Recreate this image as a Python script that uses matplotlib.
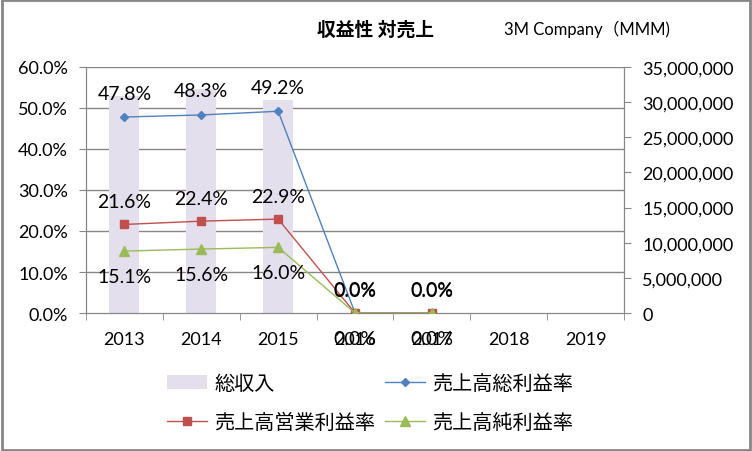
import matplotlib
matplotlib.use("Agg")
import matplotlib.pyplot as plt
import numpy as np
from matplotlib.patches import Rectangle, Patch
from matplotlib.lines import Line2D
from matplotlib.ticker import FuncFormatter

plt.rcParams['font.family'] = ['Lato', 'Noto Sans CJK JP', 'DejaVu Sans']

years = ["2013", "2014", "2015", "2016", "2017", "2018", "2019"]
revenue = [30871000, 31821000, 30274000, 0, 0, np.nan, np.nan]
gross_margin = [0.478, 0.483, 0.492, 0.0, 0.0]
operating_margin = [0.216, 0.224, 0.229, 0.0, 0.0]
net_margin = [0.151, 0.156, 0.160, 0.0, 0.0]

title = "収益性 対売上"
company = "3M Company（MMM)"
legend_labels = ["総収入", "売上高総利益率", "売上高営業利益率", "売上高純利益率"]

c_bar = "#E4DFEC"
c_gross = "#4F81BD"
c_op = "#C0504D"
c_net = "#9BBB59"
c_axis = "#868686"

rev_max = 35000000
pct_max = 0.6
pct_ticks = np.arange(0, 0.61, 0.1)

fig = plt.figure(figsize=(7.52, 4.52), dpi=100)
fig.patches.append(Rectangle((0.002, 0.003), 0.995, 0.994, transform=fig.transFigure,
                             fill=False, edgecolor=c_axis, linewidth=2))

ax_bar = fig.add_axes([0.1144, 0.3053, 0.7154, 0.5443])
ax = ax_bar.twinx()

x = np.arange(len(years))
# gridlines follow the percent axis but sit behind the bars
for t in pct_ticks[1:]:
    ax_bar.axhline(t / pct_max * rev_max, color=c_axis, linewidth=1, zorder=0.5)
ax_bar.bar(x, np.nan_to_num(revenue), width=0.39, color=c_bar, zorder=2)
ax_bar.set_ylim(0, rev_max)
ax_bar.set_yticks(np.arange(0, rev_max + 1, 5000000))
ax_bar.yaxis.set_major_formatter(FuncFormatter(lambda v, p: f"{int(v):,}"))
ax_bar.yaxis.tick_right()
ax_bar.set_xlim(-0.5, len(years) - 0.5)
ax_bar.set_xticks(x)
ax_bar.set_xticklabels(years)
ax_bar.set_xticks(np.arange(-0.5, len(years), 1), minor=True)
ax_bar.tick_params(axis='x', which='major', length=0, labelsize=13, pad=13)
ax_bar.tick_params(axis='x', which='minor', length=5, color=c_axis, direction='out')
ax_bar.tick_params(axis='y', length=5, color=c_axis, labelsize=13, pad=8)

px = x[:len(gross_margin)]
ax.plot(px, gross_margin, color=c_gross, marker='D', markersize=4.5, linewidth=1, zorder=3)
ax.plot(px, operating_margin, color=c_op, marker='s', markersize=6, linewidth=1, zorder=3)
ax.plot(px, net_margin, color=c_net, marker='^', markersize=7, linewidth=1, zorder=3)
ax.set_ylim(0, pct_max)
ax.set_yticks(pct_ticks)
ax.yaxis.set_major_formatter(FuncFormatter(lambda v, p: f"{v * 100:.1f}%"))
ax.yaxis.tick_left()
ax.tick_params(axis='y', length=5, color=c_axis, labelsize=13, pad=8)

for xi, v in zip(px, gross_margin):
    ax.annotate(f"{v * 100:.1f}%", (xi, v), xytext=(0, 24), textcoords='offset pixels',
                ha='center', va='center', fontsize=14)
for xi, v in zip(px, operating_margin):
    ax.annotate(f"{v * 100:.1f}%", (xi, v), xytext=(0, 23), textcoords='offset pixels',
                ha='center', va='center', fontsize=14)
for xi, v in zip(px, net_margin):
    ax.annotate(f"{v * 100:.1f}%", (xi, v), xytext=(0, -25), textcoords='offset pixels',
                ha='center', va='center', fontsize=14)

for a in (ax, ax_bar):
    a.spines['top'].set_visible(False)
    for s in ('left', 'right', 'bottom'):
        a.spines[s].set_color(c_axis)

fig.text(0.499, 0.934, title, ha='center', va='center', fontsize=13.5, fontweight='bold')
fig.text(0.78, 0.934, company, ha='center', va='center', fontsize=12)

handles = [
    Patch(facecolor=c_bar, edgecolor='none'),
    Line2D([], [], color=c_op, marker='s', markersize=6, linewidth=1),
    Line2D([], [], color=c_gross, marker='D', markersize=4.5, linewidth=1),
    Line2D([], [], color=c_net, marker='^', markersize=7, linewidth=1),
]
labels = [legend_labels[0], legend_labels[2], legend_labels[1], legend_labels[3]]
fig.legend(handles, labels, ncol=2, loc='center', bbox_to_anchor=(0.492, 0.108),
           frameon=False, fontsize=14.5, handlelength=2.0, columnspacing=0.5,
           labelspacing=0.95, handletextpad=0.35)

fig.savefig("out.png", dpi=100)
